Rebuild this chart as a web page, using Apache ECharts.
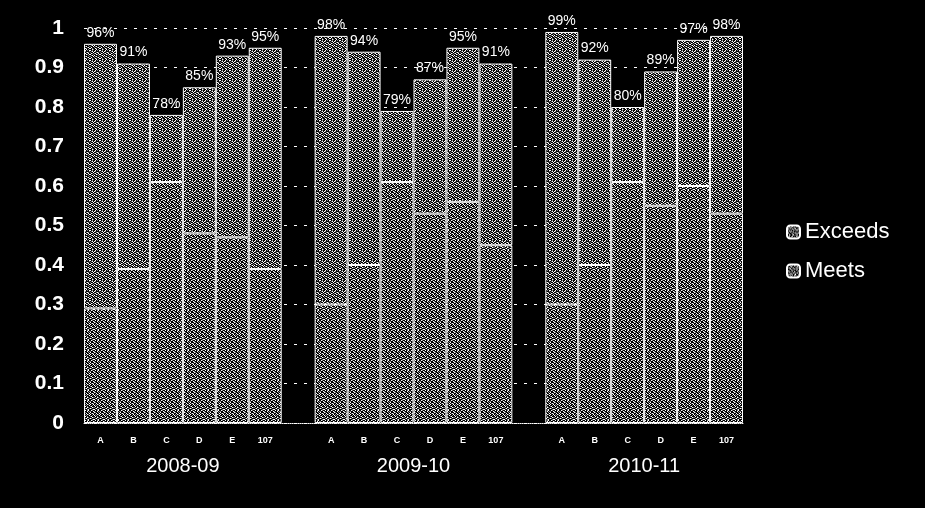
<!DOCTYPE html>
<html><head><meta charset="utf-8">
<script src="https://cdn.jsdelivr.net/npm/echarts@6/dist/echarts.min.js"></script>
<style>html,body{margin:0;padding:0;background:#000}#c{width:925px;height:508px}</style>
</head><body><div id="c"></div>
<script>
// Categories: 3 years x 6 schools, with an empty slot between years
const categories = ['A','B','C','D','E','107','',
                    'A','B','C','D','E','107','',
                    'A','B','C','D','E','107'];
const groupLabels = ['2008-09','2009-10','2010-11'];
const groupCenters = [3, 10, 17];
// bottom segment
const meets = [0.29,0.39,0.61,0.48,0.47,0.39,null,
               0.30,0.40,0.61,0.53,0.56,0.45,null,
               0.30,0.40,0.61,0.55,0.60,0.53];
// top segment
const exceeds = [0.67,0.52,0.17,0.37,0.46,0.56,null,
                 0.68,0.54,0.18,0.34,0.39,0.46,null,
                 0.69,0.52,0.19,0.34,0.37,0.45];
// total labels
const totals = ['96%','91%','78%','85%','93%','95%','',
                '98%','94%','79%','87%','95%','91%','',
                '99%','92%','80%','89%','97%','98%'];
const yTicks = [0,0.1,0.2,0.3,0.4,0.5,0.6,0.7,0.8,0.9,1];

function makePattern(rows, palette) {
  const bits = rows.map(r => r.split('').map(Number));
  const h = bits.length, w = bits[0].length;
  const cv = document.createElement('canvas');
  cv.width = w; cv.height = h;
  const ctx = cv.getContext('2d');
  for (let y = 0; y < h; y++) for (let x = 0; x < w; x++) {
    ctx.fillStyle = palette[bits[y][x]];
    ctx.fillRect(x, y, 1, 1);
  }
  return {image: cv, repeat: 'repeat'};
}
const pal = ['#000000', '#ffffff', '#7a7a7a'];
const patA = makePattern([
  '1020010201','0210120002','2001002120','0120210010','1002001201',
  '0210100020','2001021002','0100200210','1020012001','0012001020'
], pal);
const patB = makePattern([
  '0120010210','2001200102','1000120020','0212001001','1001020120',
  '0020102001','2100010200','0012200120','1200021002','0021100210'
], pal);

const chart = echarts.init(document.getElementById('c'));
chart.setOption({
  backgroundColor: '#000',
  animation: false,
  grid: {left: 84, right: 182, top: 28, bottom: 85},
  legend: {
    orient: 'vertical', left: 774, top: 211,
    data: ['Exceeds', 'Meets'],
    itemWidth: 13, itemHeight: 13, itemGap: 17,
    textStyle: {color: '#fff', fontSize: 22, fontFamily: 'Liberation Sans'},
    padding: [10, 12, 10, 12]
  },
  xAxis: [{
    type: 'category', data: categories,
    axisLine: {show: true, lineStyle: {color: '#fff', type: 'dotted'}},
    axisTick: {show: false},
    axisLabel: {color: '#fff', fontSize: 9, fontWeight: 'bold', fontFamily: 'Liberation Sans', margin: 13, interval: 0}
  }, {
    type: 'value', min: 0, max: 20, position: 'bottom',
    axisLine: {show: false}, axisTick: {show: false}, splitLine: {show: false},
    axisLabel: {
      customValues: groupCenters,
      color: '#fff', fontSize: 20, fontFamily: 'Liberation Sans', margin: 33,
      formatter: v => groupLabels[groupCenters.indexOf(v)] || ''
    }
  }],
  yAxis: {
    type: 'value', min: 0, max: 1, interval: 0.1,
    axisLine: {show: false}, axisTick: {show: false},
    splitLine: {show: true, lineStyle: {color: '#fff', type: [3, 7], width: 1}},
    axisLabel: {
      color: '#fff', fontSize: 21, fontWeight: 'bold', fontFamily: 'Liberation Sans', margin: 20,
      formatter: v => { const t = yTicks.find(k => Math.abs(k - v) < 1e-6); return t === undefined ? '' : String(t); }
    }
  },
  series: [{
    name: 'Meets', type: 'bar', stack: 's', data: meets,
    barCategoryGap: 0, barGap: 0,
    itemStyle: {color: patB, borderColor: '#fff', borderWidth: 1}
  }, {
    name: 'Exceeds', type: 'bar', stack: 's', data: exceeds,
    barCategoryGap: 0, barGap: 0,
    itemStyle: {color: patA, borderColor: '#fff', borderWidth: 1},
    label: {
      show: true, position: 'top', distance: 4,
      color: '#fff', fontSize: 14, fontFamily: 'Liberation Sans',
      formatter: p => totals[p.dataIndex]
    }
  }]
});
</script></body></html>
